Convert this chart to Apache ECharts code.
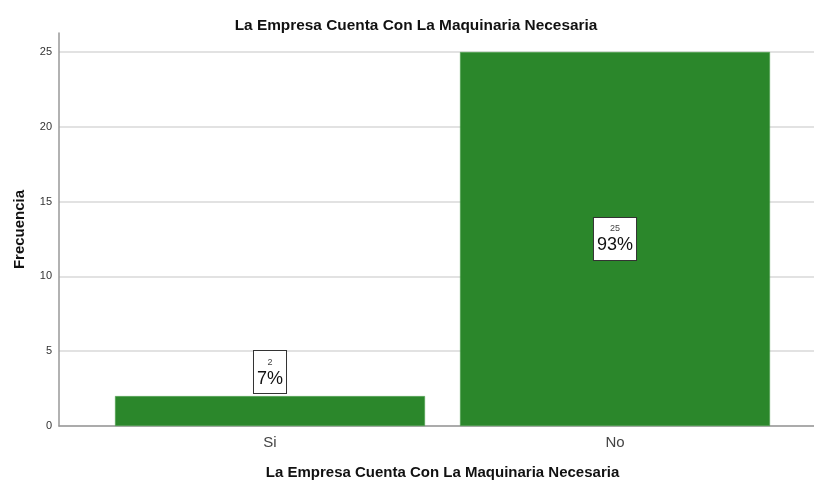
<!DOCTYPE html>
<html><head><meta charset="utf-8">
<script src="https://cdn.jsdelivr.net/npm/echarts@6/dist/echarts.min.js"></script>
<style>html,body{margin:0;padding:0;background:#fff}#c{width:814px;height:481px}</style>
</head><body><div id="c"></div>
<script>
const categories = ['Si', 'No'];
const counts = [2, 25];
const percents = ['7%', '93%'];
const yTicks = [0, 5, 10, 15, 20, 25];
const titleText = 'La Empresa Cuenta Con La Maquinaria Necesaria';
const xName = 'La Empresa Cuenta Con La Maquinaria Necesaria';
const yName = 'Frecuencia';

const font = 'Liberation Sans, Arial, sans-serif';
const chart = echarts.init(document.getElementById('c'));
chart.setOption({
  animation: false,
  backgroundColor: '#fff',
  title: { text: titleText, left: 411, textAlign: 'center', top: 13,
    textStyle: { fontFamily: font, fontSize: 15.4, fontWeight: 'bold', color: '#111' } },
  grid: [
    { left: 59, right: 0, top: 52, bottom: 55, outerBoundsMode: 'none', containLabel: false },
    { left: 58.5, right: 0, top: 33, bottom: 55, outerBoundsMode: 'none', containLabel: false },
    { left: 97.5, width: 690, top: 52, bottom: 55, outerBoundsMode: 'none', containLabel: false }
  ],
  xAxis: [
    { gridIndex: 0, type: 'category', data: categories, axisLine: { lineStyle: { color: '#999', width: 1.5 } },
      axisTick: { show: false }, axisLabel: { show: false } },
    { gridIndex: 1, type: 'category', data: categories, show: false },
    { gridIndex: 2, type: 'category', data: categories, axisLine: { show: false }, axisTick: { show: false },
      axisLabel: { margin: 9, fontFamily: font, fontSize: 15, color: '#444' },
      name: xName, nameLocation: 'middle', nameGap: 39,
      nameTextStyle: { fontFamily: font, fontSize: 15, fontWeight: 'bold', color: '#111' } }
  ],
  yAxis: [
    { gridIndex: 0, type: 'value', min: yTicks[0], max: yTicks[yTicks.length - 1], interval: 5,
      axisLine: { show: false }, axisTick: { show: false },
      axisLabel: { fontFamily: font, fontSize: 11, color: '#333', margin: 7 },
      splitLine: { lineStyle: { color: '#d9d9d9', width: 1.5 } } },
    { gridIndex: 1, type: 'value', min: 0, max: 1, axisLine: { show: true, lineStyle: { color: '#999', width: 1.5 } },
      axisTick: { show: false }, axisLabel: { show: false }, splitLine: { show: false },
      name: yName, nameLocation: 'middle', nameGap: 31, nameRotate: 90,
      nameTextStyle: { fontFamily: font, fontSize: 15, fontWeight: 'bold', color: '#111' } },
    { gridIndex: 2, type: 'value', min: yTicks[0], max: yTicks[yTicks.length - 1], show: false }
  ],
  series: [{
    type: 'bar', xAxisIndex: 2, yAxisIndex: 2, barWidth: 310,
    data: counts.map((v, i) => ({ value: v, label: { position: i === 0 ? 'top' : 'inside', distance: 3 } })),
    itemStyle: { color: '#2b872b', borderColor: '#5aa85a', borderWidth: 0.5 },
    label: {
      show: true,
      formatter: p => '{a|' + counts[p.dataIndex] + '}\n{b|' + percents[p.dataIndex] + '}',
      backgroundColor: '#fff', borderColor: '#333', borderWidth: 1, padding: [5, 3, 4, 3],
      rich: {
        a: { fontFamily: font, fontSize: 9, color: '#444', align: 'center', lineHeight: 12 },
        b: { fontFamily: font, fontSize: 18, color: '#111', align: 'center', lineHeight: 21 }
      }
    }
  }]
});
</script></body></html>
